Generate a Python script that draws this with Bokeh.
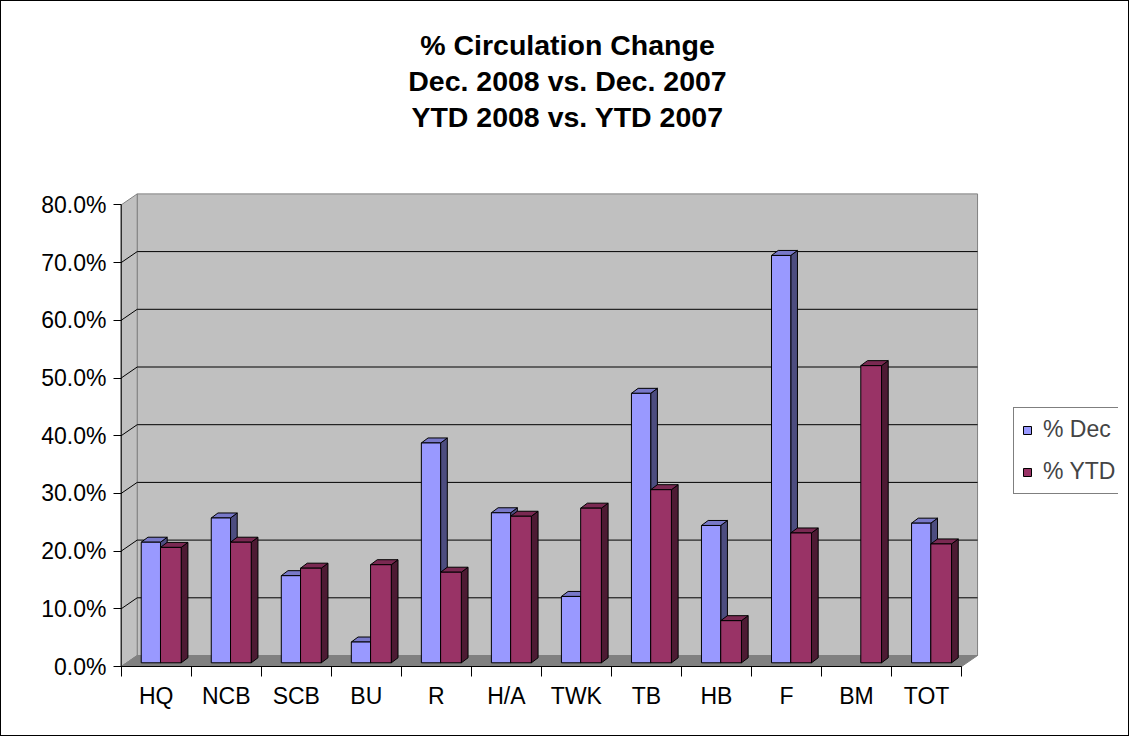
from bokeh.plotting import figure
from bokeh.models import (Range1d, FixedTicker, NumeralTickFormatter, Legend,
                          LegendItem, Title, LinearAxis)
from bokeh.embed import file_html
from bokeh.resources import INLINE

# ---------------- data ----------------
categories = ["HQ", "NCB", "SCB", "BU", "R", "H/A", "TWK", "TB", "HB", "F", "BM", "TOT"]
dec_pct = [0.209, 0.251, 0.151, 0.036, 0.381, 0.260, 0.115, 0.467, 0.238, 0.706, 0.0, 0.242]
ytd_pct = [0.200, 0.209, 0.164, 0.170, 0.157, 0.254, 0.268, 0.300, 0.073, 0.225, 0.515, 0.206]
y_ticks = [0.0, 0.1, 0.2, 0.3, 0.4, 0.5, 0.6, 0.7, 0.8]
series_names = ["% Dec", "% YTD"]
title_lines = ["% Circulation Change", "Dec. 2008 vs. Dec. 2007", "YTD 2008 vs. YTD 2007"]

# ---------------- styling / geometry ----------------
FONT = "Liberation Sans"
PX_X = 70.03          # pixels per category
PX_Y = 577.0          # pixels per 100%
DXW, DYW = 16 / PX_X, 11 / PX_Y     # depth of walls / floor
DXB, DYB = 6.7 / PX_X, 5 / PX_Y     # depth of each bar
BY = 3.7 / PX_Y                     # bar plane base
OFFS = [(0.286, 0.561), (0.561, 0.857)]
FRONT = ["#9999FF", "#993366"]
TOP = ["#7878C8", "#7A2952"]
SIDE = ["#4D4D80", "#4D1A33"]

n = len(categories)
ytop = max(y_ticks)

FRAME_W, FRAME_H = 999, 477
x0 = -1.7 / PX_X
y0 = -2 / PX_Y

p = figure(width=1129, height=736, output_backend="svg", toolbar_location=None,
           title=None, x_axis_type=None, y_axis_type=None,
           x_range=Range1d(x0, x0 + FRAME_W / PX_X),
           y_range=Range1d(y0, y0 + FRAME_H / PX_Y),
           min_border_left=118, min_border_right=12,
           min_border_top=190, min_border_bottom=69)
p.outline_line_color = None
p.background_fill_color = "white"
p.border_fill_color = "white"
p.styles = {"border": "1px solid black"}

# walls and floor
p.quad(left=DXW, right=n + DXW, bottom=DYW, top=ytop + DYW,
       fill_color="#C0C0C0", line_color="#808080", line_width=1)
p.patch([0, DXW, DXW, 0], [0, DYW, ytop + DYW, ytop],
        fill_color="#C0C0C0", line_color="#808080", line_width=1)
p.patch([0, n, n + DXW, DXW], [0, 0, DYW, DYW],
        fill_color="#808080", line_color="#808080", line_width=1)

inner = y_ticks[1:-1]
p.segment(x0=[DXW] * len(inner), y0=[v + DYW for v in inner],
          x1=[n + DXW] * len(inner), y1=[v + DYW for v in inner],
          line_color="black", line_width=1)
p.segment(x0=[0] * len(inner), y0=inner, x1=[DXW] * len(inner),
          y1=[v + DYW for v in inner], line_color="black", line_width=1)

# front axis lines
p.segment(x0=[0, 0], y0=[0, 0], x1=[0, n], y1=[ytop, 0], line_color="black", line_width=1)

# bars
front_renderers = []
for s, vals in enumerate([dec_pct, ytd_pct]):
    lo, ro = OFFS[s]
    idx = [i for i, v in enumerate(vals) if v > 0]
    L = [i + lo for i in idx]
    R = [i + ro for i in idx]
    T = [vals[i] + BY for i in idx]
    p.patches(xs=[[r, r + DXB, r + DXB, r] for r in R],
              ys=[[BY, BY + DYB, t + DYB, t] for t in T],
              fill_color=SIDE[s], line_color="black", line_width=1)
    p.patches(xs=[[l, r, r + DXB, l + DXB] for l, r in zip(L, R)],
              ys=[[t, t, t + DYB, t + DYB] for t in T],
              fill_color=TOP[s], line_color="black", line_width=1)
    fr = p.quad(left=L, right=R, bottom=BY, top=T,
                fill_color=FRONT[s], line_color="black", line_width=1)
    front_renderers.append(fr)

# y axis
yax = LinearAxis(ticker=FixedTicker(ticks=y_ticks, minor_ticks=[]),
                 formatter=NumeralTickFormatter(format="0.0%"))
yax.axis_line_color = None
yax.major_tick_in = 2
yax.major_tick_out = 6
yax.major_tick_line_color = "black"
yax.major_label_standoff = 7
yax.major_label_text_font = FONT
yax.major_label_text_font_size = "23px"
yax.major_label_text_color = "black"
p.add_layout(yax, "left")

# x axis
xax = LinearAxis(ticker=FixedTicker(ticks=[i + 0.5 for i in range(n)],
                                    minor_ticks=list(range(n + 1))))
xax.major_label_overrides = {i + 0.5: c for i, c in enumerate(categories)}
xax.axis_line_color = None
xax.major_tick_in = 0
xax.major_tick_out = 0
xax.minor_tick_in = 2
xax.minor_tick_out = 8
xax.minor_tick_line_color = "black"
xax.major_label_standoff = 6
xax.major_label_text_font = FONT
xax.major_label_text_font_size = "23px"
xax.major_label_text_color = "black"
p.add_layout(xax, "below")

# legend
legend = Legend(items=[LegendItem(label=series_names[k], renderers=[front_renderers[k]])
                       for k in range(2)],
                location=(894, 174))
legend.label_text_font = FONT
legend.label_text_font_size = "23px"
legend.glyph_width = 10
legend.glyph_height = 10
legend.label_standoff = 11
legend.label_width = 81
legend.label_height = 25
legend.spacing = 15
legend.padding = 8
legend.margin = 0
legend.border_line_color = "black"
legend.border_line_width = 1
legend.background_fill_color = "white"
legend.background_fill_alpha = 1
p.add_layout(legend)

# title: spacer nearest to the plot, then the three lines (bottom line first)
p.add_layout(Title(text=" ", text_font=FONT, text_font_size="28.5px", standoff=24), "above")
title_offsets = [300.7, 288.7, 291.9]
for text, off in zip(reversed(title_lines), reversed(title_offsets)):
    p.add_layout(Title(text=text, align="left", offset=off,
                       text_font=FONT, text_font_size="28.5px",
                       text_font_style="bold", text_color="black",
                       standoff=1.5), "above")

open("out.html", "w").write(file_html(p, INLINE))
